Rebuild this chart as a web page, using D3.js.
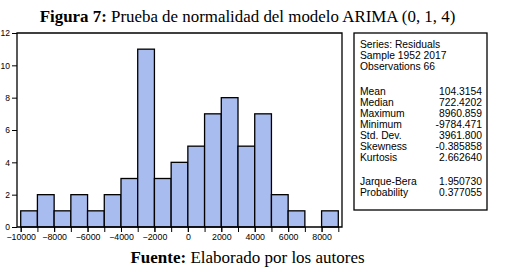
<!DOCTYPE html>
<html><head><meta charset="utf-8">
<script src="https://cdn.jsdelivr.net/npm/d3@7"></script>
<style>
html,body{margin:0;padding:0;background:#fff;}
svg{display:block;}
</style></head>
<body>
<svg id="c" width="513" height="277"></svg>
<script>
// Histogram bins (lower edges) and counts
const binStarts = [-10000,-9000,-8000,-7000,-6000,-5000,-4000,-3000,-2000,-1000,0,1000,2000,3000,4000,5000,6000,7000,8000];
const counts    = [1,2,1,2,1,2,3,11,3,4,5,7,8,5,7,2,1,0,1];
const binWidth = 1000;
const xTickLabels = [-10000,-8000,-6000,-4000,-2000,0,2000,4000,6000,8000];
const yTickLabels = [0,2,4,6,8,10,12];
const statsLabels = ["Mean","Median","Maximum","Minimum","Std. Dev.","Skewness","Kurtosis"];
const statsValues = ["104.3154","722.4202","8960.859","-9784.471","3961.800","-0.385858","2.662640"];
const jbLabels = ["Jarque-Bera","Probability"];
const jbValues = ["1.950730","0.377055"];
const headerLines = ["Series: Residuals","Sample 1952 2017","Observations 66"];

const svg = d3.select("#c");
const frame = {l:17, r:342, t:33, b:227};
const x = d3.scaleLinear().domain([-10000,9000]).range([20.7,338.3]);
const y = d3.scaleLinear().domain([0,12]).range([frame.b, frame.t]);

// Title
const title = svg.append("text").attr("x",247.5).attr("y",22).attr("text-anchor","middle")
  .style("font-family","'Liberation Serif','Times New Roman',serif").style("font-size","16.9px").attr("fill","#000");
title.append("tspan").attr("font-weight","bold").text("Figura 7:");
title.append("tspan").text(" Prueba de normalidad del modelo ARIMA (0, 1, 4)");

// Bars
svg.append("g").selectAll("rect").data(binStarts).join("rect")
  .attr("x", d => x(d))
  .attr("y", (d,i) => y(counts[i]))
  .attr("width", d => x(d+binWidth) - x(d))
  .attr("height", (d,i) => y(0) - y(counts[i]))
  .attr("fill", "#a9bcef")
  .attr("stroke", "#000").attr("stroke-width", 1.3)
  .style("display", (d,i) => counts[i] === 0 ? "none" : null);

// Frame (left, top, right, bottom)
svg.append("path")
  .attr("d", `M${frame.l},${frame.b}V${frame.t}H${frame.r}V${frame.b}H${frame.l}`)
  .attr("fill","none").attr("stroke","#000").attr("stroke-width",1.3);

// Y axis
const yAxis = d3.axisLeft(y).tickValues(yTickLabels).tickSize(5).tickPadding(2).tickFormat(d3.format("d"));
const gy = svg.append("g").attr("transform",`translate(${frame.l},0)`).call(yAxis);
gy.select(".domain").remove();
gy.selectAll("line").attr("stroke","#000").attr("stroke-width",1);
gy.selectAll("text").style("font-family","'Liberation Sans',Arial,sans-serif").style("font-size","8.5px").attr("fill","#000");

// X axis: minor ticks every 1000, labels every 2000
const allTicks = binStarts.concat([9000]);
const xAxisMinor = d3.axisBottom(x).tickValues(allTicks).tickSize(5).tickFormat("");
const gxm = svg.append("g").attr("transform",`translate(0,${frame.b})`).call(xAxisMinor);
gxm.select(".domain").remove();
gxm.selectAll("line").attr("stroke","#000").attr("stroke-width",1);
const xAxis = d3.axisBottom(x).tickValues(xTickLabels).tickSize(5).tickPadding(2).tickFormat(d3.format("d"));
const gx = svg.append("g").attr("transform",`translate(0,${frame.b})`).call(xAxis);
gx.select(".domain").remove();
gx.selectAll("line").attr("stroke","#000").attr("stroke-width",1);
gx.selectAll("text").style("font-family","'Liberation Sans',Arial,sans-serif").style("font-size","8.8px").attr("fill","#000");

// Stats box
const box = {l:354, r:487, t:33, b:210};
svg.append("rect").attr("x",box.l).attr("y",box.t).attr("width",box.r-box.l).attr("height",box.b-box.t)
  .attr("fill","#fff").attr("stroke","#000").attr("stroke-width",1.3);
const tf = s => s.style("font-family","'Liberation Sans',Arial,sans-serif").style("font-size","10.3px").attr("fill","#000");
const lh = 11.1;
headerLines.forEach((t,i)=>{
  tf(svg.append("text").attr("x",360).attr("y",47.5+i*lh).text(t));
});
statsLabels.forEach((t,i)=>{
  tf(svg.append("text").attr("x",360).attr("y",94.5+i*lh).text(t));
  tf(svg.append("text").attr("x",482).attr("y",94.5+i*lh).attr("text-anchor","end").text(statsValues[i]));
});
jbLabels.forEach((t,i)=>{
  tf(svg.append("text").attr("x",360).attr("y",184.5+i*lh).text(t));
  tf(svg.append("text").attr("x",482).attr("y",184.5+i*lh).attr("text-anchor","end").text(jbValues[i]));
});

// Footer
const foot = svg.append("text").attr("x",247.5).attr("y",263).attr("text-anchor","middle")
  .style("font-family","'Liberation Serif','Times New Roman',serif").style("font-size","17px").attr("fill","#000");
foot.append("tspan").attr("font-weight","bold").text("Fuente:");
foot.append("tspan").text(" Elaborado por los autores");
</script>
</body></html>
